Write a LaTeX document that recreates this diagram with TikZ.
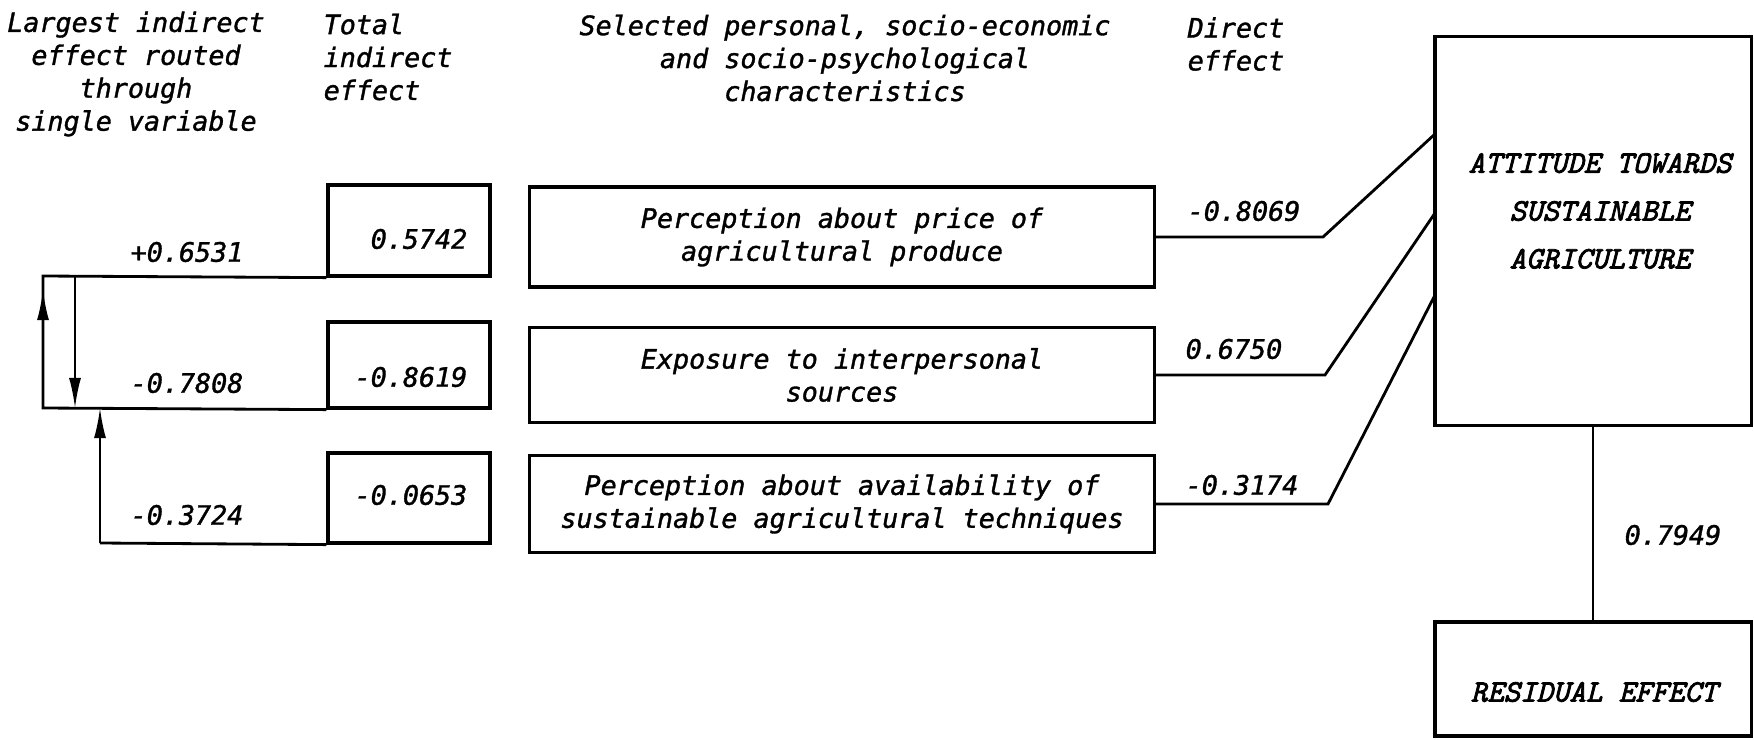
\documentclass[tikz,border=0pt]{standalone}
\usepackage{fontspec}
\newfontfamily\dgmmainfont{DejaVu Sans Mono}[FakeBold=1.3]
\newfontfamily\dgmcapsfont{Latin Modern Mono}[FakeBold=2.5]
\usetikzlibrary{arrows.meta}
\newcommand\dgmfont{\fontsize{7.6}{9.36}\selectfont\dgmmainfont\itshape}
\newcommand\dgmcapf{\fontsize{8.9}{13.6}\selectfont\dgmcapsfont\itshape}
\begin{document}
\begin{tikzpicture}[x=0.01cm,y=-0.01cm,
  every node/.style={font=\dgmfont},
  box/.style={draw, line width=0.9pt, inner sep=0pt},
  txt/.style={inner sep=0pt},
  ln/.style={line width=0.8pt},
  thin ln/.style={line width=0.6pt},
  arr/.style={-{Latex[length=0.3cm,width=0.12cm]}, line width=0.6pt}]
\useasboundingbox (0,0) rectangle (1754,739);

% headers
\node[txt, align=center] (h1) at (136,74) {Largest indirect\\effect routed\\through\\single variable};
\node[txt, align=left, anchor=west] (h2) at (323,57) {Total\\indirect\\effect};
\node[txt, align=center] (h3) at (845,58) {Selected personal, socio-economic\\and socio-psychological\\characteristics};
\node[txt, align=left, anchor=west] (h4) at (1187,44) {Direct\\effect};

% total indirect boxes
\node[box, minimum width=1.62cm, minimum height=0.91cm] (t1) at (409,230.5) {};
\node[box, minimum width=1.62cm, minimum height=0.86cm] (t2) at (409,365) {};
\node[box, minimum width=1.62cm, minimum height=0.90cm] (t3) at (409,498) {};
\node[txt, anchor=east] (v1) at (468,239) {0.5742};
\node[txt, anchor=east] (v2) at (468,377) {-0.8619};
\node[txt, anchor=east] (v3) at (468,495) {-0.0653};

% characteristic boxes
\node[box, minimum width=6.24cm, minimum height=1.0cm, align=center] (m1) at (842,237) {Perception about price of\\agricultural produce};
\node[box, minimum width=6.24cm, minimum height=0.95cm, align=center] (m2) at (842,375) {Exposure to interpersonal\\sources};
\node[box, minimum width=6.24cm, minimum height=0.97cm, align=center] (m3) at (842,504) {Perception about availability of\\sustainable agricultural techniques};

% attitude and residual
\node[box, minimum width=3.16cm, minimum height=3.88cm] (att) at (1593,231) {};
\node[txt, align=center, font=\dgmcapf] (attt) at (1600,211) {ATTITUDE TOWARDS\\SUSTAINABLE\\AGRICULTURE};
\node[box, minimum width=3.16cm, minimum height=1.14cm] (res) at (1593,679) {};
\node[txt, font=\dgmcapf] (rest) at (1594,692) {RESIDUAL EFFECT};
\draw[thin ln] (att.south) -- (res.north);
\node[txt, anchor=west] (rv) at (1624,535) {0.7949};

% direct effects
\coordinate (p1) at (1323,237); \coordinate (q1) at (1435,134);
\coordinate (p2) at (1325,375); \coordinate (q2) at (1435,213);
\coordinate (p3) at (1328,504); \coordinate (q3) at (1435,295);
\draw[ln] (m1.east) -- (p1) -- (q1);
\draw[ln] (m2.east) -- (p2) -- (q2);
\draw[ln] (m3.east) -- (p3) -- (q3);
\node[txt, anchor=west] (d1) at (1187,211) {-0.8069};
\node[txt, anchor=west] (d2) at (1185,349) {0.6750};
\node[txt, anchor=west] (d3) at (1185,485) {-0.3174};

% largest indirect routes
\coordinate (L1) at (43,276); \coordinate (L2) at (43,408); \coordinate (Lt) at (43,290);
\coordinate (D1) at (75,276); \coordinate (D2) at (75,408);
\coordinate (U1) at (100,543); \coordinate (U2) at (100,408);
\draw[ln] (t1.south west) -- (L1) -- (L2) -- (t2.south west);
\draw[ln] (t3.south west) -- (U1);
\draw[arr] (L2) -- (Lt);
\draw[arr] (D1) -- (D2);
\draw[arr] (U1) -- (U2);
\node[txt, anchor=west] (e1) at (130,252) {+0.6531};
\node[txt, anchor=west] (e2) at (130,383) {-0.7808};
\node[txt, anchor=west] (e3) at (130,515) {-0.3724};
\end{tikzpicture}
\end{document}
